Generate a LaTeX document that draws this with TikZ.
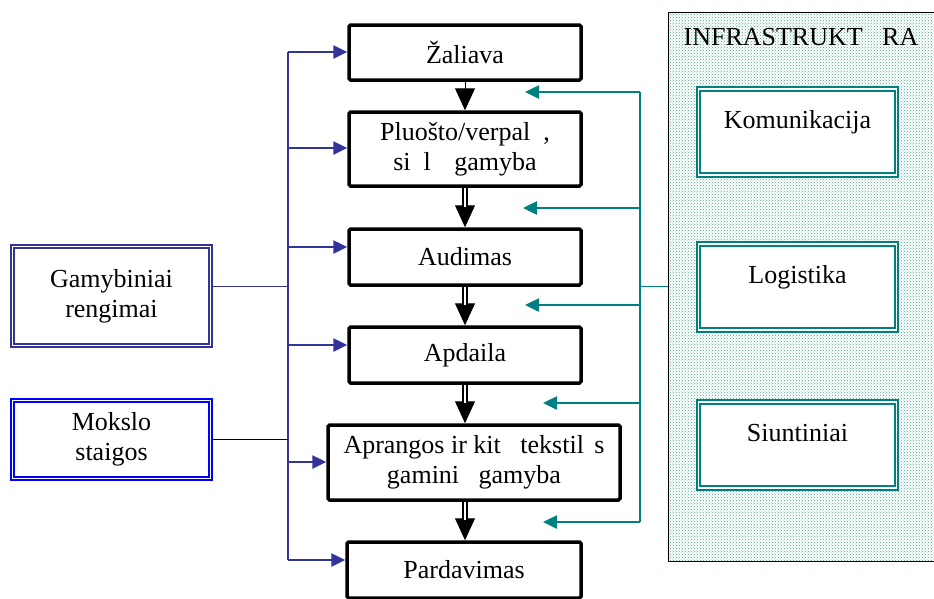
\documentclass[tikz,border=0pt]{standalone}
\usepackage{fontspec}
\setmainfont{Liberation Serif}
\usepackage{xcolor}
\usepackage{tikz}
\usetikzlibrary{arrows.meta, patterns}

\definecolor{indig}{RGB}{51,51,153}
\definecolor{tealc}{RGB}{0,128,128}
\definecolor{dotc}{RGB}{70,165,135}

\begin{document}
\begin{tikzpicture}[x=1pt, y=-1pt,
        font=\fontsize{26}{30}\selectfont,
        stage/.style={draw, line width=3.5pt, rounded corners=1.5pt, minimum width=232pt, align=center, inner sep=0pt},
        side/.style={double=white, double distance=1.2pt, line width=2pt, minimum width=198pt, align=center, fill=white},
        infra/.style={draw=tealc, double=white, double distance=1.2pt, line width=2pt, minimum width=198pt, text height=39pt, text depth=47pt, inner sep=0pt, fill=white, anchor=north},
        bus/.style={draw=indig, line width=2.5pt},
        feed/.style={bus, -{Triangle[length=14pt,width=13pt]}},
        tbus/.style={draw=tealc, line width=2.5pt},
        tfeed/.style={tbus, -{Triangle[length=14pt,width=13pt]}},
        flow/.style={-{Triangle[length=22pt,width=20pt]}, line width=1pt},
        dflow/.style={double, double distance=2pt, line width=1.8pt, shorten >=20pt}]
        \useasboundingbox (0,0) rectangle (934,598);

        % gamybos grandine
        \node[stage, minimum height=55pt] (zal) at (465,52.5) {Žaliava};
        \node[stage, minimum height=74pt] (plu) at (465,149) {Pluošto/verpal\hspace{0.5em},\\si\hspace{0.5em}l\hspace{0.9em}gamyba};
        \node[stage, minimum height=56pt] (aud) at (465,257) {Audimas};
        \node[stage, minimum height=56pt] (apd) at (465,355) {Apdaila};
        \node[stage, minimum width=292pt, minimum height=75pt] (apr) at (474,462.5) {Aprangos ir kit\hspace{0.75em}tekstil\hspace{0.4em}s\\gamini\hspace{0.75em}gamyba};
        \node[stage, minimum width=234pt, minimum height=56pt] (par) at (464,570) {Pardavimas};

        % kaires puses blokai
        \node[side, draw=indig, minimum height=99pt] (gam) at (111.5,296) {Gamybiniai\\rengimai};
        \node[side, draw=blue, minimum height=78pt] (mok) at (111.5,439.5) {Mokslo\\staigos};

        % infrastruktura
        \node[draw, line width=0.8pt, pattern=crosshatch dots, pattern color=dotc, minimum width=268pt, minimum height=549pt, inner sep=0pt] (inf) at (802,286.5) {};
        \node[anchor=base] (inft) at (801,45) {INFRASTRUKT\hspace{0.75em}RA};
        \node[infra] (kom) at (797.5,88) {Komunikacija};
        \node[infra] (log) at (797.5,243) {Logistika};
        \node[infra] (siu) at (797.5,401) {Siuntiniai};

        % rodykles tarp etapu
        \draw[flow] (zal) -- (plu);
        \foreach \a/\b in {plu/aud, aud/apd, apd/apr, apr/par} {
            \draw[flow] (\a.south -| zal) -- (\b.north -| zal);
            \draw[dflow] (\a.south -| zal) -- (\b.north -| zal);
        }

        % melyna magistrale
        \foreach \y/\n in {52/zal, 148/plu, 247/aud, 345/apd, 462/apr, 560/par} {
            \coordinate (b-\n) at (288,\y);
            \draw[feed] (b-\n) -- (b-\n -| \n.west);
        }
        \draw[bus] (b-zal) -- (b-par);
        \draw[indig, line width=1pt] ([yshift=10pt]gam.east) -- ([yshift=10pt]gam.east -| b-zal);
        \draw[line width=1pt] (mok.east) -- (mok.east -| b-zal);

        % zalsva magistrale
        \foreach \y/\x [count=\i] in {92/525, 208/523, 305/525, 403/543, 522/543} {
            \coordinate (t\i) at (640,\y);
            \coordinate (e\i) at (\x,\y);
            \draw[tfeed] (t\i) -- (e\i);
        }
        \draw[tbus] (t1) -- (t5);
        \draw[tealc, line width=1pt] (inf.west) -- (inf.west -| t1);
\end{tikzpicture}
\end{document}
